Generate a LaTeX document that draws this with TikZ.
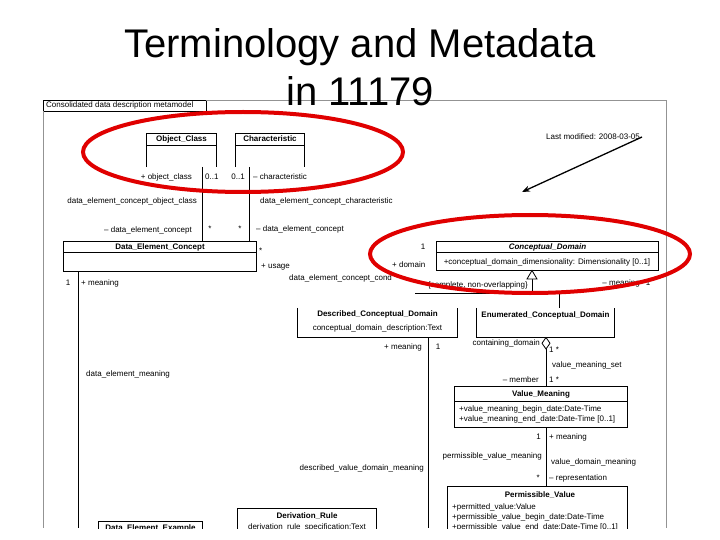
\documentclass[tikz,border=0pt]{standalone}
\usepackage{fontspec}
\setmainfont{Liberation Sans}
\usetikzlibrary{arrows.meta}
\begin{document}
\begin{tikzpicture}[x=1pt,y=-1pt,
  lbl/.style={font=\fontsize{8}{9}\selectfont, inner sep=0pt, text height=6pt, text depth=2pt},
  ttl/.style={font=\fontsize{8}{9}\selectfont\bfseries, inner sep=0pt, text height=6pt, text depth=2pt},
  umlbox/.style={draw=none, inner sep=0pt, minimum width=#1},
  uml/.style={draw=black, line width=0.8pt},
  framel/.style={draw=gray!85, line width=1pt},
  hilite/.style={draw=red!88!black, line width=4pt},
  titlef/.style={font=\fontsize{40}{48}\selectfont, inner sep=0pt}
]
\useasboundingbox (0,0) rectangle (720,540);
\fill[white] (0,0) rectangle (720,540);

\begin{scope}
\clip (0,0) rectangle (720,528);
% frame of the embedded picture
\node[draw=black, line width=0.6pt, inner sep=0pt, minimum width=163pt, minimum height=11pt] (tab) at (124.5,106) {};
\node[lbl, anchor=west] (tabT) at (46,106) {Consolidated data description metamodel};
\coordinate (fTL) at (206,101);
\coordinate (fTR) at (666,101);
\coordinate (fBR) at (666,528);
\coordinate (fL1) at (43,111.5);
\coordinate (fL2) at (43,528);
\draw[framel] (fTL) -- (fTR) -- (fBR);
\draw[framel] (fL1) -- (fL2);

% class boxes
\node[umlbox=69pt, minimum height=33pt] (oc) at (181.5,150.5) {};
\node[umlbox=68pt, minimum height=33pt] (ch) at (270,150.5) {};
\node[umlbox=192pt, minimum height=29pt] (dec) at (160,256.5) {};
\node[umlbox=221pt, minimum height=28pt] (cd) at (547.5,256) {};
\node[umlbox=159pt, minimum height=29pt] (dcd) at (377.5,322.5) {};
\node[umlbox=137pt, minimum height=29pt] (ecd) at (545.5,322.5) {};
\node[umlbox=172pt, minimum height=40pt] (vm) at (541,407) {};
\node[umlbox=179pt, minimum height=73pt] (pv) at (537.5,523.5) {};
\node[umlbox=138pt, minimum height=51pt] (dr) at (307,534.5) {};
\node[umlbox=103pt, minimum height=38pt] (dee) at (150.5,541) {};

\draw[uml] (oc.south west) -- (oc.north west) -- (oc.north east) -- (oc.south east);
\draw[uml] ([yshift=-12pt]oc.north west) -- ([yshift=-12pt]oc.north east);
\draw[uml] (ch.south west) -- (ch.north west) -- (ch.north east) -- (ch.south east);
\draw[uml] ([yshift=-12pt]ch.north west) -- ([yshift=-12pt]ch.north east);
\draw[uml] (dec.south west) rectangle (dec.north east);
\draw[uml] ([yshift=-11pt]dec.north west) -- ([yshift=-11pt]dec.north east);
\draw[uml] (cd.south west) rectangle (cd.north east);
\draw[uml] ([yshift=-11pt]cd.north west) -- ([yshift=-11pt]cd.north east);
\draw[uml] (dcd.north west) -- (dcd.south west) -- (dcd.south east) -- (dcd.north east);
\draw[uml] (ecd.north west) -- (ecd.south west) -- (ecd.south east) -- (ecd.north east);
\draw[uml] (vm.south west) rectangle (vm.north east);
\draw[uml] ([yshift=-15pt]vm.north west) -- ([yshift=-15pt]vm.north east);
\draw[uml] (pv.south west) rectangle (pv.north east);
\draw[uml] (dr.south west) rectangle (dr.north east);
\draw[uml] (dee.south west) rectangle (dee.north east);

% class titles and attributes
\node[ttl] (ocT) at (181.5,140) {Object\_Class};
\node[ttl] (chT) at (270,140) {Characteristic};
\node[ttl] (decT) at (160,247.5) {Data\_Element\_Concept};
\node[ttl, font=\fontsize{8}{9}\selectfont\bfseries\itshape] (cdT) at (547.5,247.5) {Conceptual\_Domain};
\node[lbl] (cdA) at (547,262) {+conceptual\_domain\_dimensionality: Dimensionality [0..1]};
\node[ttl] (dcdT) at (377.5,314) {Described\_Conceptual\_Domain};
\node[lbl] (dcdA) at (377.5,328) {conceptual\_domain\_description:Text};
\node[ttl] (ecdT) at (545.5,315) {Enumerated\_Conceptual\_Domain};
\node[ttl] (vmT) at (541,394.5) {Value\_Meaning};
\node[lbl, anchor=west] (vmA1) at (459,409) {+value\_meaning\_begin\_date:Date-Time};
\node[lbl, anchor=west] (vmA2) at (459,419) {+value\_meaning\_end\_date:Date-Time [0..1]};
\node[ttl] (pvT) at (540,495) {Permissible\_Value};
\node[lbl, anchor=west] (pvA1) at (452,507) {+permitted\_value:Value};
\node[lbl, anchor=west] (pvA2) at (452,517) {+permissible\_value\_begin\_date:Date-Time};
\node[lbl, anchor=west] (pvA3) at (452,527) {+permissible\_value\_end\_date:Date-Time [0..1]};
\node[ttl] (drT) at (307,516.5) {Derivation\_Rule};
\node[lbl] (drA) at (307,527.5) {derivation\_rule\_specification:Text};
\node[ttl] (deeT) at (150.5,528.5) {Data\_Element\_Example};

% associations
\coordinate (ocA) at (202,167);
\coordinate (chA) at (249,167);
\draw[uml] (ocA) -- (ocA |- dec.north);
\draw[uml] (chA) -- (chA |- dec.north);
\coordinate (decM) at (78,271);
\coordinate (decMend) at (78,528);
\draw[uml] (decM) -- (decMend);
% generalisation
\coordinate (gApex) at (532,270.5);
\coordinate (gBase) at (532,279);
\coordinate (gMid) at (532,293);
\coordinate (gL) at (415,293);
\coordinate (gR) at (559,293);
\draw[uml] (gBase) -- (gMid);
\draw[uml] (gL) -- (gR) -- (gR |- ecd.north);
\draw[uml, fill=white] (gApex) -- (527,279) -- (537,279) -- cycle;
% described domain meaning
\coordinate (dcdM) at (428,337);
\coordinate (dcdMend) at (428,528);
\draw[uml] (dcdM) -- (dcdMend);
% aggregation
\coordinate (dT) at (546,337.5);
\coordinate (dB) at (546,349);
\draw[uml] (dB) -- (dB |- vm.north);
\draw[uml, fill=white] (dT) -- (550,343.25) -- (dB) -- (542,343.25) -- cycle;
\coordinate (vmB) at (546,427);
\draw[uml] (vmB) -- (vmB |- pv.north);

% role labels
\node[lbl, anchor=east] (l1) at (192,178) {+ object\_class};
\node[lbl, anchor=west] (l2) at (205,178) {0..1};
\node[lbl, anchor=east] (l3) at (245,178) {0..1};
\node[lbl, anchor=west] (l4) at (253,178) {-- characteristic};
\node[lbl, anchor=east] (l5) at (197,202) {data\_element\_concept\_object\_class};
\node[lbl, anchor=west] (l6) at (260,202) {data\_element\_concept\_characteristic};
\node[lbl, anchor=east] (l7) at (192,231) {-- data\_element\_concept};
\node[lbl] (l8) at (210,230) {*};
\node[lbl] (l9) at (240,230) {*};
\node[lbl, anchor=west] (l10) at (256,230) {-- data\_element\_concept};
\node[lbl, anchor=west] (l11) at (259,251) {*};
\node[lbl, anchor=west] (l12) at (261,266) {+ usage};
\node[lbl, anchor=west] (l13) at (289,278) {data\_element\_concept\_cond};
\node[lbl, anchor=west] (l14) at (392,265.5) {+ domain};
\node[lbl] (l15) at (423,247) {1};
\node[lbl] (l16) at (68,283) {1};
\node[lbl, anchor=west] (l17) at (81,283) {+ meaning};
\node[lbl, anchor=west] (l18) at (86,374) {data\_element\_meaning};
\node[lbl, anchor=east] (l19) at (528,285) {\{complete, non-overlapping\}};
\node[lbl, anchor=east] (l20) at (640,283.5) {-- meaning};
\node[lbl] (l21) at (648,283.5) {1};
\node[lbl, anchor=east] (l22) at (422,347) {+ meaning};
\node[lbl] (l23) at (438,347) {1};
\node[lbl, anchor=east] (l24) at (540,343) {containing\_domain};
\node[lbl, anchor=west] (l25) at (549,350) {1 *};
\node[lbl, anchor=west] (l26) at (552,365) {value\_meaning\_set};
\node[lbl, anchor=east] (l27) at (539,380) {-- member};
\node[lbl, anchor=west] (l28) at (549,380) {1 *};
\node[lbl, anchor=east] (l29) at (541,437) {1};
\node[lbl, anchor=west] (l30) at (549,437) {+ meaning};
\node[lbl, anchor=east] (l31) at (542,456) {permissible\_value\_meaning};
\node[lbl, anchor=west] (l32) at (551,462) {value\_domain\_meaning};
\node[lbl, anchor=east] (l33) at (540,478) {*};
\node[lbl, anchor=west] (l34) at (549,478) {-- representation};
\node[lbl, anchor=east] (l35) at (424,468) {described\_value\_domain\_meaning};
\end{scope}

% annotation arrow
\node[lbl, anchor=west] (note) at (546,138) {Last modified: 2008-03-05};
\coordinate (arS) at (642,137);
\coordinate (arE) at (522,192);
\draw[line width=1.3pt, -{Stealth[length=8pt,width=6pt]}] (arS) -- (arE);

% red highlight ellipses
\draw[hilite] (243,152) ellipse [x radius=160, y radius=40];
\draw[hilite] (530,254) ellipse [x radius=160, y radius=39];

% title
\node[titlef, anchor=base] (t1) at (360,58) {Terminology and Metadata};
\node[titlef, anchor=base] (t2) at (360,106) {in 11179};
\end{tikzpicture}
\end{document}
